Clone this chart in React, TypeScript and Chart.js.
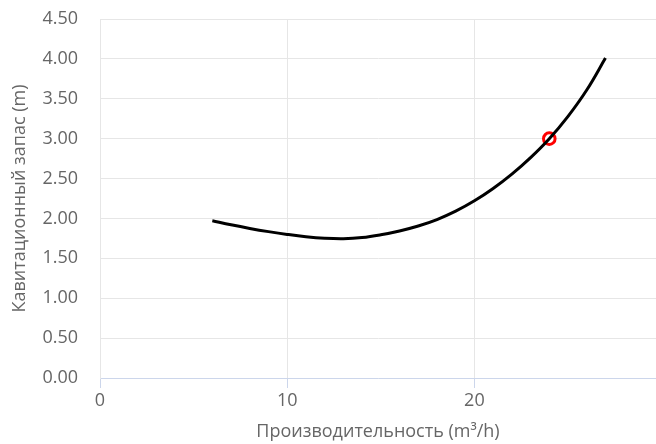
import React, { useEffect, useRef } from "react";
import { Chart, registerables } from "chart.js";

Chart.register(...registerables);

const flowValues = [6, 7, 8, 9, 10, 11, 12, 13, 14, 15, 16, 17, 18, 19, 20, 21, 22, 23, 24, 25, 26, 27];
const npshValues = [1.97, 1.92, 1.875, 1.835, 1.8, 1.771, 1.752, 1.746, 1.76, 1.795, 1.843, 1.905, 1.986, 2.091, 2.221, 2.376, 2.556, 2.763, 3.0, 3.28, 3.61, 4.01];
const operatingFlow = [24];
const operatingNpsh = [3.0];
const xTickValues = [0, 10, 20];

const FONT = "'Open Sans'";
const SIZE = 18;

export default function App() {
  const ref = useRef<HTMLCanvasElement | null>(null);
  useEffect(() => {
    if (!ref.current) return;
    const chart = new Chart(ref.current, {
      type: "line",
      data: {
        datasets: [
          {
            data: flowValues.map((x, i) => ({ x, y: npshValues[i] })),
            borderColor: "#000000",
            borderWidth: 3,
            pointRadius: 0,
            tension: 0.4,
            fill: false,
            clip: false,
          },
          {
            data: operatingFlow.map((x, i) => ({ x, y: operatingNpsh[i] })),
            showLine: false,
            pointRadius: 5.8,
            pointBorderWidth: 3,
            pointBorderColor: "#ff0000",
            pointBackgroundColor: "#ffffff",
            clip: false,
          },
        ],
      },
      options: {
        animation: false,
        responsive: false,
        maintainAspectRatio: false,
        layout: { autoPadding: false, padding: 0 },
        plugins: { legend: { display: false }, tooltip: { enabled: false } },
        scales: {
          x: {
            type: "linear",
            min: 0,
            max: 29.7,
            afterBuildTicks: (scale: any) => {
              scale.ticks = xTickValues.map((v) => ({ value: v }));
            },
            grid: { color: "#e6e6e6", tickColor: "#ccd6eb", tickLength: 10 },
            border: { color: "#ccd6eb" },
            ticks: { color: "#666666", font: { family: FONT, size: SIZE }, padding: 2 },
            title: {
              display: true,
              text: "Производительность (m³/h)",
              color: "#666666",
              font: { family: FONT, size: SIZE },
              padding: { top: 8, bottom: 1 },
            },
            afterFit: (scale: any) => {
              scale.height = 66;
            },
          },
          y: {
            min: 0,
            max: 4.5,
            ticks: {
              stepSize: 0.5,
              color: "#666666",
              font: { family: FONT, size: SIZE },
              padding: 22,
              callback: (v: any) => Number(v).toFixed(2),
            },
            grid: { color: "#e6e6e6", drawTicks: false },
            border: { color: "#e6e6e6" },
            title: {
              display: true,
              text: "Кавитационный запас (m)",
              color: "#666666",
              font: { family: FONT, size: SIZE },
              padding: { top: 9, bottom: 0 },
            },
            afterFit: (scale: any) => {
              scale.width = 100;
              scale.paddingTop = 19;
              scale.paddingBottom = 10;
            },
          },
        },
      },
    });
    return () => chart.destroy();
  }, []);
  return (
    <div style={{ position: "fixed", left: 0, top: 0, width: 656, height: 444 }}>
      <canvas ref={ref} width={656} height={444} style={{ width: 656, height: 444 }} />
    </div>
  );
}
